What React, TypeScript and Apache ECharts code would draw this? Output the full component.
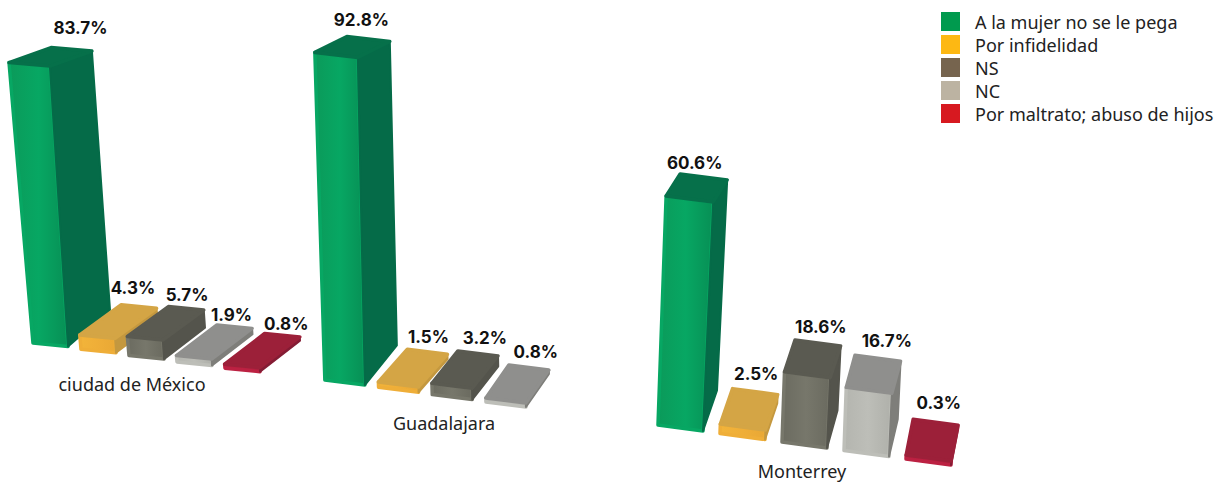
import React, { useEffect, useRef } from "react";
import * as echarts from "echarts";

const answers = ["A la mujer no se le pega", "Por infidelidad", "NS", "NC", "Por maltrato; abuso de hijos"];
const cities = ["ciudad de México", "Guadalajara", "Monterrey"];
const mexicoValues = [83.7, 4.3, 5.7, 1.9, 0.8];
const guadalajaraValues = [92.8, 1.5, 3.2, 0.8];
const monterreyValues = [60.6, 2.5, 18.6, 16.7, 0.3];
const cityValues = [mexicoValues, guadalajaraValues, monterreyValues];

const legendColors = ["#009A4E", "#FDB813", "#76644E", "#BCB3A2", "#D71920"];
const facePalettes = [
  { front: ["#0B9A5A", "#07A763", "#078F55"], side: "#056B48", top: "#06704A" },
  { front: ["#F2B43A", "#EFAE38", "#E9A835"], side: "#C4983F", top: "#D4A545" },
  { front: ["#6B6B60", "#77776B", "#6A6A5F"], side: "#54544C", top: "#5A5A51" },
  { front: ["#B4B5AF", "#BDBEB8", "#AFB0AA"], side: "#7E7E7A", top: "#8F8F8D" },
  { front: ["#B02040", "#BC2142", "#A01E3C"], side: "#841C34", top: "#9C2039" },
];

const panels = [
  { left: 26.5, width: 240, top: 8, height: 335, w: 35, widen: 0.021, tilt: -0.075, skew: 3.5, slope: 6.3, dx: 42, dxStep: -0.5, dy: -31, k: 0.057, nudge: [[9, -21], [-6, -18], [1, -13], [-3, -12], [4, -11]], cityX: 132, cityY: 384 },
  { left: 318, width: 268.5, top: 27, height: 353, w: 40, widen: 0.009, tilt: -0.026, skew: 5, slope: 7.3, dx: 32, dxStep: -3, dy: -33, k: 0.052, nudge: [[-7, -19], [1, -15], [7, -15], [7, -16]], cityX: 444, cityY: 423 },
  { left: 649.5, width: 310, top: 47, height: 378, w: 45, widen: 0.009, tilt: 0.04, skew: 6, slope: 8.5, dx: 14, dxStep: -1.75, dy: -36, k: 0.061, nudge: [[-9, -14], [1, -18], [3, -16], [9, -17], [3, -19]], cityX: 802, cityY: 471 },
];

function makeRenderItem(p: any, index: number) {
  return (_params: any, api: any) => {
    const v = api.value(1);
    const base = api.coord([index, 0]);
    const peak = api.coord([index, v]);
    const h = Math.max(base[1] - peak[1], 4);
    const yb = base[1] + p.slope * index;
    const cx = base[0] + p.tilt * h;
    const halfW = (p.w + p.widen * h) / 2;
    const ddx = p.dx + p.dxStep * index;
    const ddy = p.dy + p.k * h;
    const pal = facePalettes[index];
    const FLb = [base[0] - p.w / 2, yb];
    const FRb = [base[0] + p.w / 2, yb + p.skew];
    const FL = [cx - halfW, yb - h];
    const FR = [cx + halfW, yb - h + p.skew];
    const BL = [FL[0] + ddx, FL[1] + ddy];
    const BR = [FR[0] + ddx, FR[1] + ddy];
    const BRb = [FRb[0] + ddx, FRb[1] + p.dy - 0.02 * h];
    const stroke = (c: string) => ({ stroke: c, lineWidth: 3.5, lineJoin: "round" });
    const [nx, ny] = p.nudge[index];
    return {
      type: "group",
      children: [
        {
          type: "polygon",
          shape: { points: [FL, FR, FRb, FLb] },
          style: {
            fill: new echarts.graphic.LinearGradient(0, 0, 1, 0, [
              { offset: 0, color: pal.front[0] },
              { offset: 0.5, color: pal.front[1] },
              { offset: 1, color: pal.front[2] },
            ]),
            ...stroke(pal.front[1]),
          },
        },
        { type: "polygon", shape: { points: [FR, BR, BRb, FRb] }, style: { fill: pal.side, ...stroke(pal.side), lineWidth: 2 } },
        { type: "polygon", shape: { points: [FL, FR, BR, BL] }, style: { fill: pal.top, ...stroke(pal.top) } },
        {
          type: "text",
          x: (BL[0] + BR[0]) / 2 + nx,
          y: (BL[1] + BR[1]) / 2 + ny,
          style: {
            text: v.toFixed(1) + "%",
            align: "center",
            verticalAlign: "middle",
            fontFamily: "Inter",
            fontWeight: 700,
            fontSize: 17,
            fill: "#111111",
          },
        },
      ],
    };
  };
}

export default function App() {
  const ref = useRef<HTMLDivElement>(null);
  useEffect(() => {
    const chart = echarts.init(ref.current!, null, { renderer: "svg" });
    const series: any[] = [];
    cityValues.forEach((values, c) => {
      values.forEach((value, i) => {
        series.push({
          type: "custom",
          name: answers[i],
          xAxisIndex: c,
          yAxisIndex: c,
          clip: false,
          itemStyle: { color: legendColors[i] },
          encode: { x: 0, y: 1 },
          data: [[i, value]],
          renderItem: makeRenderItem(panels[c], i),
        });
      });
    });
    chart.setOption({
      animation: false,
      backgroundColor: "#ffffff",
      title: cities.map((text, c) => ({
        text,
        left: panels[c].cityX,
        top: panels[c].cityY - 9,
        padding: 0,
        textAlign: "center",
        textStyle: { fontFamily: "Noto Sans", fontSize: 18, fontWeight: 400, color: "#222222", lineHeight: 18 },
      })),
      legend: {
        orient: "vertical",
        left: 941,
        top: 12,
        padding: 0,
        itemWidth: 19,
        itemHeight: 19,
        itemGap: 4,
        icon: "rect",
        data: answers,
        selectedMode: false,
        textStyle: { fontFamily: "Noto Sans", fontSize: 18, color: "#222222", padding: [0, 0, 0, 10] },
      },
      grid: panels.map((p) => ({ left: p.left, width: p.width, top: p.top, height: p.height })),
      xAxis: panels.map((_, c) => ({ type: "category", gridIndex: c, data: answers, show: false })),
      yAxis: panels.map((_, c) => ({ type: "value", gridIndex: c, min: 0, max: 100, show: false })),
      series,
    });
    return () => chart.dispose();
  }, []);
  return <div ref={ref} style={{ position: "fixed", left: 0, top: 0, width: 1218, height: 483 }} />;
}
